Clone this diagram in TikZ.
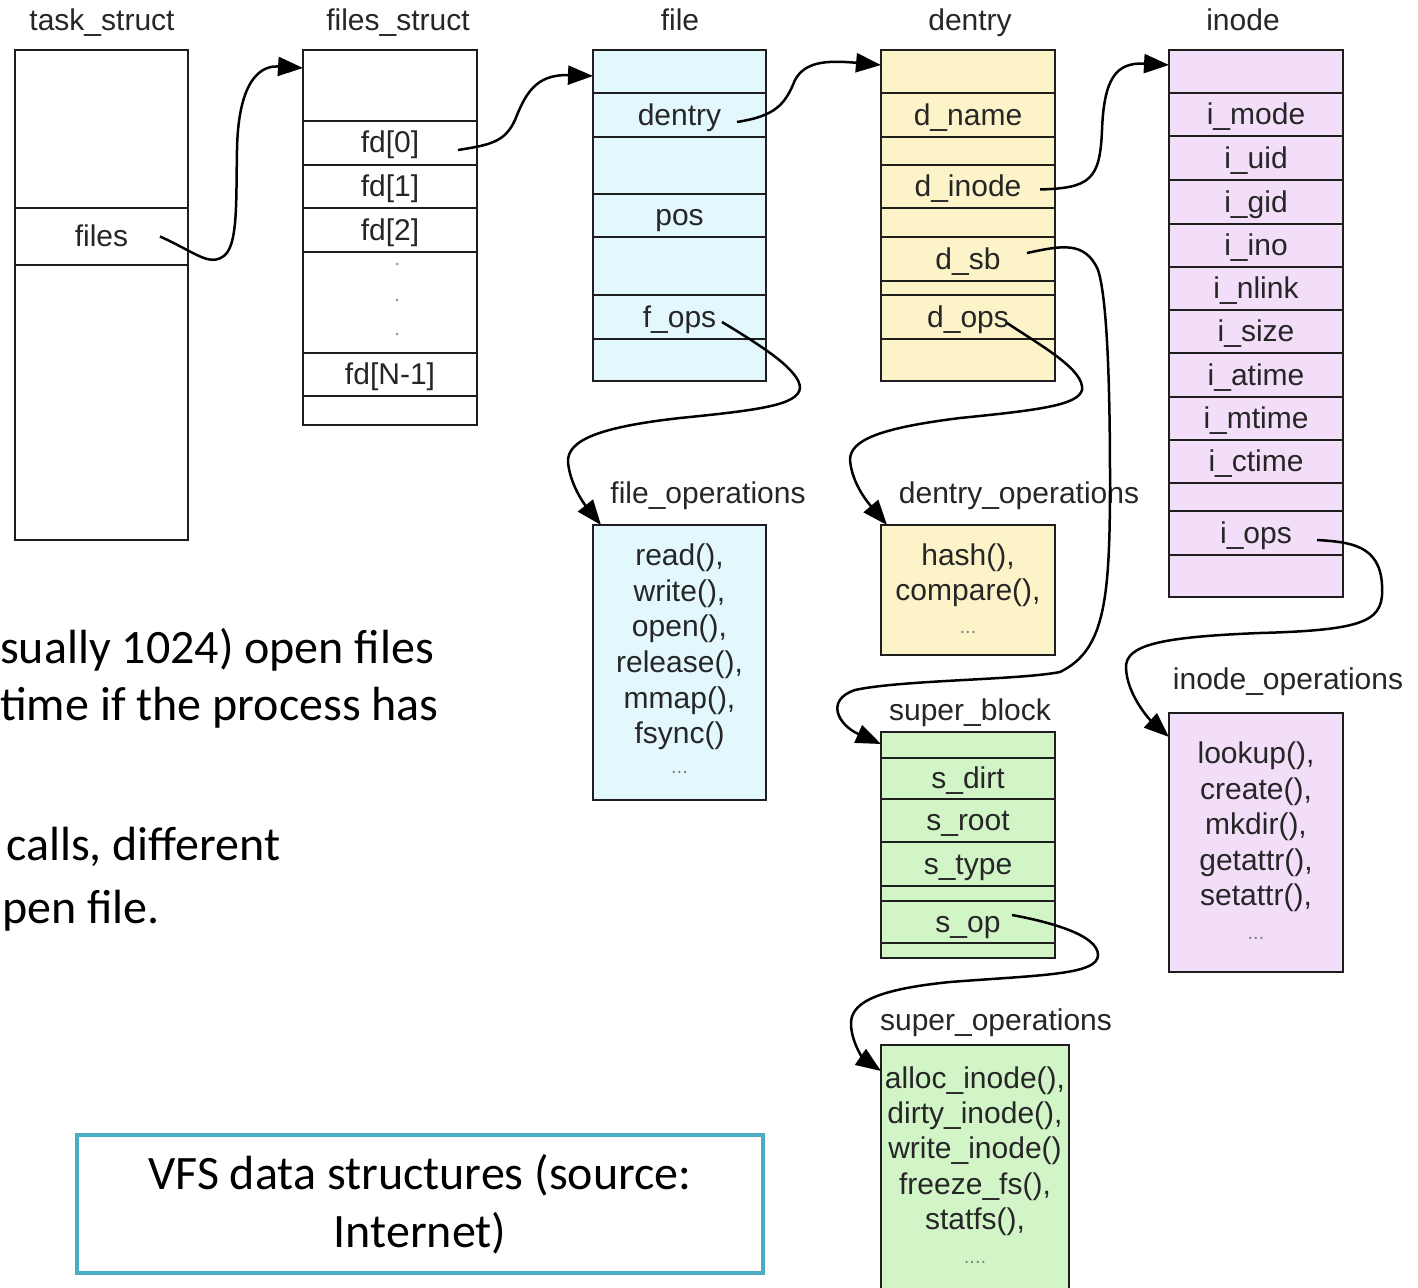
\documentclass[tikz,border=0pt]{standalone}
\usepackage{fontspec}
\setmainfont{Liberation Sans}
\newfontfamily\slidefont{Carlito}
\usetikzlibrary{arrows.meta}
\definecolor{fcyan}{HTML}{E3F8FD}
\definecolor{fyel}{HTML}{FCF4C8}
\definecolor{fpur}{HTML}{F2DEF8}
\definecolor{fgrn}{HTML}{D2F5C8}
\definecolor{teal1}{HTML}{4BACC6}
\definecolor{ink}{HTML}{262626}
\definecolor{edge}{HTML}{1E1E1E}
% name, xc, width, ytop, ybot, fill, text
\newcommand\rowf[7]{\node[field,fill=#6,minimum width=#3pt,minimum height={(#5-#4)*1pt}] (#1) at (#2,{(#4+#5)/2}) {#7};}
% name, xc, width, ytop, ybot, fill
\newcommand\rowe[6]{\node[fieldE,fill=#6,minimum width=#3pt,minimum height={(#5-#4)*1pt}] (#1) at (#2,{(#4+#5)/2}) {};}
\tikzset{
  field/.style={draw=edge, line width=2.2pt, inner sep=0pt, outer sep=0pt, text=ink,
    font=\fontsize{30}{36}\selectfont, text height=24pt, text depth=4pt},
  fieldE/.style={draw=edge, line width=2.2pt, inner sep=0pt, outer sep=0pt, text height=0pt, text depth=0pt},
  ttl/.style={text=ink, font=\fontsize{30}{36}\selectfont, anchor=base, inner sep=0pt},
  ops/.style={text=ink, align=center, inner sep=0pt},
  dotsT/.style={text=gray, font=\fontsize{20}{20}\selectfont, inner sep=0pt},
  dotn/.style={circle, fill=gray!80, inner sep=0pt, minimum size=3pt},
  conn/.style={draw=black, line width=2.5pt, -{Triangle[length=25pt,width=19pt]}},
  slide/.style={font=\slidefont\fontsize{48}{57}\selectfont, anchor=base west, inner sep=0pt, text=black},
}
\begin{document}
\begin{tikzpicture}[x=1pt,y=-1pt]
\useasboundingbox (0,0) rectangle (1418,1287);
\fill[white] (0,0) rectangle (1418,1287);
\clip (0,0) rectangle (1418,1287);

% titles
\node[ttl] (tTask) at (102,31) {task\_struct};
\node[ttl] (tFiles) at (398,31) {files\_struct};
\node[ttl] (tFile) at (680,31) {file};
\node[ttl] (tDentry) at (970,31) {dentry};
\node[ttl] (tInode) at (1243,31) {inode};
\node[ttl] (tFo) at (708,503) {file\_operations};
\node[ttl] (tDo) at (1019,503) {dentry\_operations};
\node[ttl] (tSb) at (970,720) {super\_block};
\node[ttl] (tIo) at (1288,689) {inode\_operations};
\node[ttl] (tSo) at (996,1030) {super\_operations};

% task_struct
\rowe{tsA}{101.5}{173}{50}{208}{white}
\rowf{tsFiles}{101.5}{173}{208}{265}{white}{files}
\rowe{tsB}{101.5}{173}{265}{540}{white}

% files_struct
\rowe{fsTop}{390}{174}{50}{121}{white}
\rowf{fd0}{390}{174}{121}{165}{white}{fd[0]}
\rowf{fd1}{390}{174}{165}{208}{white}{fd[1]}
\rowf{fd2}{390}{174}{208}{252}{white}{fd[2]}
\rowe{fsDots}{390}{174}{252}{353}{white}
\rowf{fdN}{390}{174}{353}{396}{white}{fd[N-1]}
\rowe{fsEnd}{390}{174}{396}{425}{white}
\node[dotn] (dotA) at (397,264) {};
\node[dotn] (dotB) at (397,300) {};
\node[dotn] (dotC) at (397,334) {};

% file
\rowe{fTop}{679.5}{173}{50}{93}{fcyan}
\rowf{fDentry}{679.5}{173}{93}{137}{fcyan}{dentry}
\rowe{fB}{679.5}{173}{137}{194}{fcyan}
\rowf{fPos}{679.5}{173}{194}{237}{fcyan}{pos}
\rowe{fC}{679.5}{173}{237}{295}{fcyan}
\rowf{fOps}{679.5}{173}{295}{339}{fcyan}{f\_ops}
\rowe{fEnd}{679.5}{173}{339}{381}{fcyan}

% dentry
\rowe{dTop}{968}{174}{50}{93}{fyel}
\rowf{dName}{968}{174}{93}{137}{fyel}{d\_name}
\rowe{dB}{968}{174}{137}{165}{fyel}
\rowf{dInode}{968}{174}{165}{208}{fyel}{d\_inode}
\rowe{dC}{968}{174}{208}{237}{fyel}
\rowf{dSb}{968}{174}{237}{281}{fyel}{d\_sb}
\rowe{dD}{968}{174}{281}{295}{fyel}
\rowf{dOps}{968}{174}{295}{339}{fyel}{d\_ops}
\rowe{dEnd}{968}{174}{339}{381}{fyel}

% inode
\rowe{iTop}{1256}{174}{50}{93}{fpur}
\rowf{iMode}{1256}{174}{93}{136}{fpur}{i\_mode}
\rowf{iUid}{1256}{174}{136}{180}{fpur}{i\_uid}
\rowf{iGid}{1256}{174}{180}{224}{fpur}{i\_gid}
\rowf{iIno}{1256}{174}{224}{267}{fpur}{i\_ino}
\rowf{iNlink}{1256}{174}{267}{310}{fpur}{i\_nlink}
\rowf{iSize}{1256}{174}{310}{353}{fpur}{i\_size}
\rowf{iAtime}{1256}{174}{353}{397}{fpur}{i\_atime}
\rowf{iMtime}{1256}{174}{397}{440}{fpur}{i\_mtime}
\rowf{iCtime}{1256}{174}{440}{483}{fpur}{i\_ctime}
\rowe{iB}{1256}{174}{483}{511}{fpur}
\rowf{iOps}{1256}{174}{511}{555}{fpur}{i\_ops}
\rowe{iEnd}{1256}{174}{555}{597}{fpur}

% super_block
\rowe{sbTop}{968}{174}{732}{758}{fgrn}
\rowf{sDirt}{968}{174}{758}{799}{fgrn}{s\_dirt}
\rowf{sRoot}{968}{174}{799}{842}{fgrn}{s\_root}
\rowf{sType}{968}{174}{842}{886}{fgrn}{s\_type}
\rowe{sB}{968}{174}{886}{901}{fgrn}
\rowf{sOp}{968}{174}{901}{943}{fgrn}{s\_op}
\rowe{sEnd}{968}{174}{943}{958}{fgrn}

% operation boxes
\rowe{foBox}{679.5}{173}{525}{800}{fcyan}
\rowe{doBox}{968}{174}{525}{655}{fyel}
\rowe{ioBox}{1256}{174}{713}{972}{fpur}
\rowe{soBox}{975}{188}{1045}{1300}{fgrn}

\node[ops, font=\fontsize{30}{35.6}\selectfont] (foText) at (679.5,647) {read(),\\write(),\\open(),\\release(),\\mmap(),\\fsync()};
\node[dotsT] (foDots) at (679.5,772) {...};
\node[ops, font=\fontsize{30}{35}\selectfont] (doText) at (968,575) {hash(),\\compare(),};
\node[dotsT] (doDots) at (968,632) {...};
\node[ops, font=\fontsize{30}{35.5}\selectfont] (ioText) at (1256,827) {lookup(),\\create(),\\mkdir(),\\getattr(),\\setattr(),};
\node[dotsT] (ioDots) at (1256,938) {...};
\node[ops, font=\fontsize{30}{35.3}\selectfont] (soText) at (975,1151) {alloc\_inode(),\\dirty\_inode(),\\write\_inode()\\freeze\_fs(),\\statfs(),};
\node[dotsT] (soDots) at (975,1262) {....};

% connectors
\draw[conn] ([xshift=-28pt]tsFiles.east) .. controls (195,252) and (210,268) .. (225,255)
  .. controls (238,243) and (236,200) .. (237,150)
  .. controls (238,90) and (255,65) .. ([yshift=-18pt]fsTop.north west);
\draw[conn] ([xshift=-19pt,yshift=-7pt]fd0.east) .. controls (490,145) and (505,142) .. (515,120)
  .. controls (525,95) and (535,74) .. ([yshift=-26pt]fTop.north west);
\draw[conn] ([xshift=-29pt,yshift=-7pt]fDentry.east) .. controls (775,116) and (785,105) .. (795,80)
  .. controls (805,62) and (825,60) .. ([yshift=-15pt]dTop.north west);
\draw[conn] ([xshift=-15pt,yshift=-3pt]dInode.east) .. controls (1090,188) and (1100,180) .. (1102,130)
  .. controls (1104,80) and (1115,62) .. ([yshift=-15pt]iTop.north west);
\draw[conn] ([xshift=-28pt,yshift=6pt]dSb.east) .. controls (1060,246) and (1085,240) .. (1098,270)
  .. controls (1108,300) and (1110,400) .. (1110,480)
  .. controls (1110,600) and (1105,650) .. (1060,672)
  .. controls (1020,680) and (900,680) .. (855,690)
  .. controls (825,700) and (838,725) .. ([yshift=-12pt]sbTop.north west);
\draw[conn] ([xshift=-48pt,yshift=-6pt]dOps.east) .. controls (1040,345) and (1085,370) .. (1082,390)
  .. controls (1078,405) and (1040,410) .. (960,418)
  .. controls (880,428) and (850,440) .. (850,460)
  .. controls (852,485) and (870,505) .. ([xshift=6pt]doBox.north west);
\draw[conn] ([xshift=-44pt,yshift=-5pt]fOps.east) .. controls (760,345) and (800,370) .. (800,388)
  .. controls (798,405) and (760,410) .. (680,418)
  .. controls (600,427) and (567,440) .. (568,462)
  .. controls (570,485) and (585,505) .. ([xshift=8pt]foBox.north west);
\draw[conn] ([xshift=-43pt,yshift=7pt]sOp.east) .. controls (1050,922) and (1098,935) .. (1098,955)
  .. controls (1098,975) and (1040,975) .. (950,982)
  .. controls (870,990) and (850,1005) .. (851,1025)
  .. controls (852,1045) and (865,1060) .. ([yshift=-26pt]soBox.north west);
\draw[conn] ([xshift=-26pt,yshift=-7pt]iOps.east) .. controls (1350,542) and (1380,545) .. (1382,585)
  .. controls (1384,620) and (1370,630) .. (1260,633)
  .. controls (1160,637) and (1125,645) .. (1126,668)
  .. controls (1127,695) and (1150,720) .. ([yshift=-24pt]ioBox.north west);

% slide text
\node[slide] (sl1) at (0,663) {sually 1024) open files};
\node[slide] (sl2) at (0,720) {time if the process has};
\node[slide] (sl3) at (6,860) {calls, different};
\node[slide] (sl4) at (2,923) {pen file.};

\node[draw=teal1, line width=4pt, minimum width=686pt, minimum height=138pt, align=center,
  font=\slidefont\fontsize{48}{58}\selectfont, inner sep=0pt] (caption) at (420,1204)
  {VFS data structures (source:\\Internet)};
\end{tikzpicture}
\end{document}
